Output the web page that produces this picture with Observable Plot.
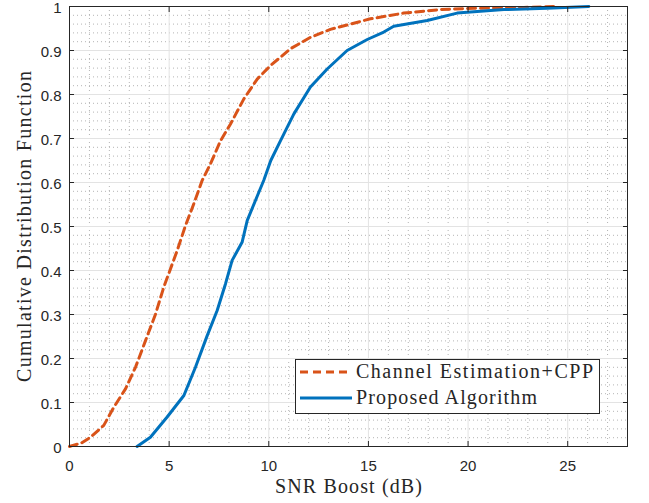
<!DOCTYPE html>
<html>
<head>
<meta charset="utf-8">
<script src="https://cdn.jsdelivr.net/npm/d3@7"></script>
<script src="https://cdn.jsdelivr.net/npm/@observablehq/plot@0.6"></script>
<style>
  html, body { margin: 0; padding: 0; background: #ffffff; }
  #chart { width: 649px; height: 503px; }
</style>
</head>
<body>
<div id="chart"></div>
<script>
// ---- data ----
const cppX = [0, 0.13, 0.6, 1.05, 1.72, 2.22, 2.81, 3.31, 3.81, 4.31, 4.73, 5.07, 5.40, 5.82, 6.24, 6.66, 7.07, 7.58, 8.08, 8.75, 9.42, 10.09, 11.09, 12.09, 13.09, 14.1, 15.1, 16.77, 18.6, 20.3, 22.8, 24.5];
const cppY = [0, 0.002, 0.008, 0.021, 0.048, 0.089, 0.131, 0.18, 0.24, 0.30, 0.362, 0.404, 0.445, 0.502, 0.552, 0.605, 0.642, 0.695, 0.733, 0.79, 0.835, 0.866, 0.904, 0.93, 0.948, 0.96, 0.972, 0.985, 0.993, 0.996, 0.998, 1.0];
const propX = [3.39, 4.06, 4.9, 5.74, 6.32, 6.91, 7.41, 7.83, 8.16, 8.66, 8.92, 9.33, 9.75, 10.1, 10.59, 11.26, 12.09, 12.93, 13.93, 14.94, 15.77, 16.27, 17.95, 19.45, 21.8, 23.97, 26.06];
const propY = [0, 0.021, 0.067, 0.116, 0.18, 0.252, 0.309, 0.37, 0.423, 0.464, 0.514, 0.559, 0.605, 0.65, 0.695, 0.756, 0.817, 0.858, 0.9, 0.925, 0.942, 0.955, 0.968, 0.985, 0.993, 0.996, 1.0];
const seriesNames = ["Channel Estimation+CPP", "Proposed Algorithm"];
const seriesColors = ["#D95319", "#0072BD"];
const xMajorTicks = [0, 5, 10, 15, 20, 25];
const xMinorTicks = [1,2,3,4,6,7,8,9,11,12,13,14,16,17,18,19,21,22,23,24,26,27];
const yMajorTicks = [0, 0.1, 0.2, 0.3, 0.4, 0.5, 0.6, 0.7, 0.8, 0.9, 1];
const yMinorTicks = d3.range(0, 50).map(i => +(i * 0.02).toFixed(2)).filter(v => Math.round(v * 100) % 10 !== 0);
const xLabel = "SNR Boost (dB)";
const yLabel = "Cumulative Distribution Function";

const cpp = cppX.map((x, i) => ({x, y: cppY[i]}));
const prop = propX.map((x, i) => ({x, y: propY[i]}));

const axisColor = "#262626";
const serif = "Liberation Serif";

const chart = Plot.plot({
  width: 649,
  height: 503,
  marginLeft: 69,
  marginRight: 22,
  marginTop: 6,
  marginBottom: 57,
  style: {fontFamily: "Liberation Sans", fontSize: "15px", color: axisColor, background: "#ffffff"},
  x: {domain: [0, 28]},
  y: {domain: [0, 1]},
  marks: [
    Plot.ruleX(xMinorTicks, {stroke: "#b4b4b4", strokeDasharray: "1,3", strokeWidth: 1}),
    Plot.ruleY(yMinorTicks, {stroke: "#b4b4b4", strokeDasharray: "1,3", strokeWidth: 1}),
    Plot.ruleX(xMajorTicks, {stroke: "#e3e3e3", strokeWidth: 1}),
    Plot.ruleY(yMajorTicks, {stroke: "#e3e3e3", strokeWidth: 1}),
    Plot.line(cpp, {x: "x", y: "y", stroke: seriesColors[0], strokeWidth: 3, strokeDasharray: "8,5", curve: "linear"}),
    Plot.line(prop, {x: "x", y: "y", stroke: seriesColors[1], strokeWidth: 3, curve: "linear"}),
    Plot.frame({stroke: axisColor, strokeWidth: 1}),
    Plot.axisX({anchor: "bottom", ticks: xMajorTicks, tickSize: 0, tickPadding: 14, tickFormat: d => String(d), label: null, fill: axisColor}),
    Plot.axisX({anchor: "bottom", ticks: xMajorTicks, tickSize: -5, text: null, label: null, stroke: axisColor}),
    Plot.axisX({anchor: "top", ticks: xMajorTicks, tickSize: -5, text: null, label: null, stroke: axisColor}),
    Plot.axisY({anchor: "left", ticks: yMajorTicks, tickSize: 0, tickPadding: 8, dy: 2, tickFormat: d => String(+d.toFixed(1)), label: null, fill: axisColor}),
    Plot.axisY({anchor: "left", ticks: yMajorTicks, tickSize: -5, text: null, label: null, stroke: axisColor}),
    Plot.axisY({anchor: "right", ticks: yMajorTicks, tickSize: -5, text: null, label: null, stroke: axisColor}),
    Plot.text([xLabel], {className: "xlab", frameAnchor: "bottom", dy: 46, text: d => d, fontFamily: serif, fontSize: 20, fill: axisColor, textAnchor: "middle"}),
    Plot.text([yLabel], {className: "ylab", frameAnchor: "left", dx: -45, rotate: -90, text: d => d, fontFamily: serif, fontSize: 20, fill: axisColor, textAnchor: "middle"})
  ]
});
document.getElementById("chart").appendChild(chart);

const svg = d3.select(chart);
// widen serif labels to the wider LaTeX-style reference font
svg.selectAll(".xlab text").attr("textLength", 147).attr("lengthAdjust", "spacing");
svg.selectAll(".ylab text").attr("textLength", 311).attr("lengthAdjust", "spacing");

// ---- legend (inside the axes, bottom-right) ----
const lg = svg.append("g").attr("class", "legend");
lg.append("rect").attr("x", 295.5).attr("y", 359.5).attr("width", 304).attr("height", 54)
  .attr("fill", "#ffffff").attr("stroke", axisColor).attr("stroke-width", 1);
const rows = [
  {name: seriesNames[0], color: seriesColors[0], dash: "8,5", ly: 372, ty: 378, len: 237},
  {name: seriesNames[1], color: seriesColors[1], dash: null, ly: 398, ty: 404, len: 181}
];
rows.forEach(r => {
  const l = lg.append("line").attr("x1", 300).attr("x2", 352).attr("y1", r.ly).attr("y2", r.ly)
    .attr("stroke", r.color).attr("stroke-width", 3);
  if (r.dash) l.attr("stroke-dasharray", r.dash);
  lg.append("text").attr("x", 356).attr("y", r.ty).attr("fill", axisColor)
    .attr("text-anchor", "start")
    .attr("font-family", serif).attr("font-size", 20)
    .attr("textLength", r.len).attr("lengthAdjust", "spacing").text(r.name);
});
</script>
</body>
</html>
